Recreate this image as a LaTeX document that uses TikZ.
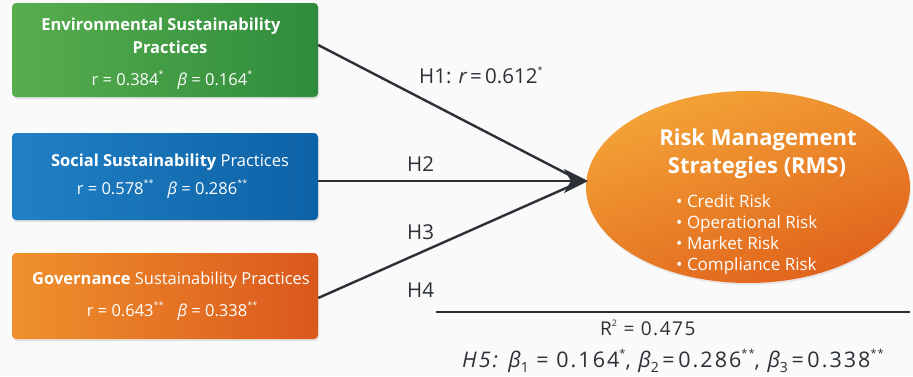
\documentclass[tikz,border=0pt]{standalone}
\usepackage{fontspec}
\setmainfont{Open Sans}
\newfontfamily\widefont[LetterSpace=8]{Open Sans}
\newfontfamily\widerfont[LetterSpace=9.5]{Open Sans}
\usetikzlibrary{shadows,arrows.meta,calc,shapes.geometric}
\definecolor{bgc}{HTML}{FAFAFA}
\definecolor{gL}{HTML}{58AE4E}
\definecolor{gR}{HTML}{2F8C3C}
\definecolor{bL}{HTML}{2180C4}
\definecolor{bR}{HTML}{0D62A6}
\definecolor{oL}{HTML}{EF912C}
\definecolor{oR}{HTML}{DB581D}
\definecolor{eT}{HTML}{F4A437}
\definecolor{eB}{HTML}{E0621B}
\definecolor{ink}{HTML}{2B3036}
\newcommand{\st}[1]{\raisebox{0.45em}{\fontsize{9}{9}\selectfont #1}}
\newcommand{\stb}[1]{\raisebox{0.42em}{\fontsize{11}{11}\selectfont #1}}
\newcommand{\sbb}[1]{\raisebox{-0.25em}{\fontsize{14}{14}\selectfont #1}}
\begin{document}
\begin{tikzpicture}[x=1pt,y=-1pt,
  box/.style={rounded corners=4pt, minimum width=306pt, inner sep=0pt,
    drop shadow={opacity=0.18, shadow xshift=1pt, shadow yshift=-2pt}},
  wtxt/.style={text=white, anchor=base, inner sep=0pt, font=\fontsize{16.5}{19}\selectfont},
  lbl/.style={text=ink, anchor=base west, inner sep=0pt, font=\fontsize{20.5}{23}\selectfont},
  conn/.style={draw=ink, line width=2.4pt},
  ell/.style={text=white, anchor=base west, inner sep=0pt, font=\fontsize{17}{19}\selectfont}]
\useasboundingbox[fill=bgc] (0,0) rectangle (913,376);

% boxes
\node[box, minimum height=94pt, left color=gL, right color=gR] (env) at (165,50) {};
\node[box, minimum height=87pt, left color=bL, right color=bR] (soc) at (165,176.5) {};
\node[box, minimum height=86pt, left color=oL, right color=oR] (gov) at (165,296) {};

% box texts
\node[wtxt] (env1) at (161,30) {\bfseries Environmental Sustainability};
\node[wtxt] (env2) at (170,53) {\bfseries Practices};
\node[wtxt] (env3) at (172,85) {r = 0.384\st{*}\hspace{14pt}{\itshape β} = 0.164\st{*}};

\node[wtxt] (soc1) at (170,166) {\textbf{Social Sustainability} Practices};
\node[wtxt] (soc2) at (162,194) {r = 0.578\st{**}\hspace{14pt}{\itshape β} = 0.286\st{**}};

\node[wtxt] (gov1) at (171,284) {\textbf{Governance} Sustainability Practices};
\node[wtxt] (gov2) at (172,316) {r = 0.643\st{**}\hspace{14pt}{\itshape β} = 0.338\st{**}};

% ellipse
\node[ellipse, minimum width=324pt, minimum height=192pt, inner sep=0pt,
  top color=eT, bottom color=eB, shading angle=20,
  drop shadow={opacity=0.15, shadow xshift=1pt, shadow yshift=-2pt}] (rms) at (748,187) {};
\node[text=white, anchor=base, inner sep=0pt, font=\fontsize{22}{25}\bfseries\selectfont] (rms1) at (758,145) {Risk Management};
\node[text=white, anchor=base, inner sep=0pt, font=\fontsize{22}{25}\bfseries\selectfont] (rms2) at (757,173) {Strategies (RMS)};
\node[ell] (b1) at (676,207) {• Credit Risk};
\node[ell] (b2) at (676,228) {• Operational Risk};
\node[ell] (b3) at (676,249) {• Market Risk};
\node[ell] (b4) at (676,270) {• Compliance Risk};

% connectors
\coordinate (tip) at (588,181);
\coordinate (tipin) at (575,178);
\coordinate (tipin2) at (575,184);
\draw[conn] ($(env.east)+(0,-5)$) -- (tipin);
\draw[conn] ($(gov.east)+(0,2)$) -- (tipin2);
\draw[conn, -{Stealth[length=24pt, width=24pt, inset=7pt]}] (soc.east |- tip) -- (tip);

% labels
\node[lbl] (h1) at (419,83) {H1: {\itshape r}\,=\,0.612\st{*}};
\node[lbl] (h2) at (407,171) {H2};
\node[lbl] (h3) at (407,239) {H3};
\node[lbl] (h4) at (407,297) {H4};

\coordinate (la) at (436,312);
\coordinate (lb) at (910,312);
\draw[draw=ink, line width=2pt] (la) -- (lb);

\node[text=ink, anchor=base west, inner sep=0pt, font=\widefont\fontsize{19}{21}\selectfont] (r2) at (600,335) {R\st{2} = 0.475};
\node[text=ink, anchor=base west, inner sep=0pt, font=\widerfont\fontsize{21.5}{24}\selectfont] (h5) at (462,367)
  {{\itshape H5: β}\sbb{1} = 0.164\stb{*}, {\itshape β}\sbb{2}\,=\,0.286\stb{**}, {\itshape β}\sbb{3}\,=\,0.338\stb{**}};
\end{tikzpicture}
\end{document}
